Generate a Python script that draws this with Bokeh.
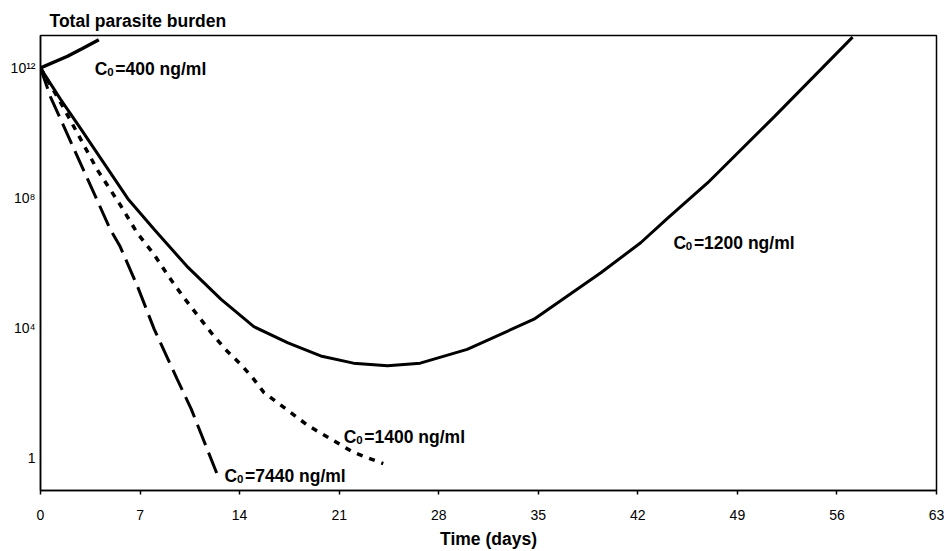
from bokeh.plotting import figure
from bokeh.models import FixedTicker, Range1d, Label
from bokeh.embed import file_html
from bokeh.resources import INLINE

# ---- data ----
days_400 = [0, 1.9, 2.95, 4.1]
burden_400 = [1e12, 2.3e12, 4.0e12, 7.4e12]

days_1200 = [0, 1.4, 2.8, 6.2, 8.0, 10.3, 12.7, 15.0, 17.4, 19.7, 22.0, 24.4,
             26.7, 30.0, 34.7, 39.4, 42.2, 44.1, 46.9, 51.6, 57.1]
burden_1200 = [1e12, 1.1e11, 1.41e10, 8.8e7, 1.07e7, 7.9e5, 7.6e4, 1.1e4, 3.5e3,
               1.38e3, 830, 690, 830, 2.2e3, 1.86e4, 5.0e5, 4.2e6, 2.4e7, 2.9e8,
               3.2e10, 8.9e12]

days_1400 = [0, 1.6, 4.0, 5.6, 6.8, 8.0, 9.0, 10.0, 11.0, 12.0, 13.0, 14.1,
             14.9, 15.7, 18.8, 22.0, 24.1]
burden_1400 = [1e12, 6.2e10, 7.3e8, 6.2e7, 8.4e6, 1.8e6, 3.9e5, 9.6e4, 2.6e4,
               7.2e3, 2.2e3, 740, 300, 105, 10, 1.5, 0.67]

days_7440 = [0, 0.7, 4.9, 5.6, 6.8, 8.0, 9.6, 10.6, 12.5]
burden_7440 = [1e12, 1.3e11, 1.1e7, 3.2e6, 2.0e5, 9.1e3, 270, 32, 0.26]

x_ticks = [0, 7, 14, 21, 28, 35, 42, 49, 56, 63]
y_ticks = [1, 10**4, 10**8, 10**12]
y_tick_labels = ["1", "10\u2074", "10\u2078", "10\u00b9\u00b2"]

concentrations = ["400", "1200", "1400", "7440"]
label_x = [3.82, 44.5, 21.33, 12.94]
label_y = [9.6e11, 4.0e6, 4.4, 0.275]

FONT = "Liberation Sans"
BIG = "17.5px"

p = figure(width=944, height=551, y_axis_type="log",
           x_range=Range1d(0, 63), y_range=Range1d(0.1, 1e13),
           output_backend="svg", toolbar_location=None,
           min_border_left=40, min_border_right=8, min_border_top=35,
           min_border_bottom=59)

p.title.text = "Total parasite burden"
p.title.text_font = FONT
p.title.text_font_size = BIG
p.title.text_font_style = "bold"
p.title.text_color = "black"
p.title.align = "left"
p.title.offset = 9
p.title.standoff = 9

p.xgrid.visible = False
p.ygrid.visible = False
p.outline_line_color = "black"
p.outline_line_width = 1.5
p.background_fill_color = "white"
p.border_fill_color = "white"

# x axis
p.xaxis.ticker = FixedTicker(ticks=x_ticks)
p.xaxis.minor_tick_line_color = None
p.xaxis.major_tick_out = 4
p.xaxis.major_tick_in = 0
p.xaxis.major_tick_line_color = "black"
p.xaxis.major_tick_line_width = 1.5
p.xaxis.axis_line_color = "black"
p.xaxis.axis_line_width = 1.5
p.xaxis.major_label_text_font = FONT
p.xaxis.major_label_text_font_size = "14px"
p.xaxis.major_label_text_color = "black"
p.xaxis.major_label_standoff = 15
p.xaxis.axis_label = "Time (days)"
p.xaxis.axis_label_text_font = FONT
p.xaxis.axis_label_text_font_size = BIG
p.xaxis.axis_label_text_font_style = "bold"
p.xaxis.axis_label_text_color = "black"
p.xaxis.axis_label_standoff = 6

# y axis
p.yaxis.ticker = FixedTicker(ticks=y_ticks, minor_ticks=[])
p.yaxis.major_label_overrides = dict(zip(y_ticks, y_tick_labels))
p.yaxis.minor_tick_line_color = None
p.yaxis.major_tick_out = 0
p.yaxis.major_tick_in = 0
p.yaxis.axis_line_color = "black"
p.yaxis.axis_line_width = 1.5
p.yaxis.major_label_text_font = FONT
p.yaxis.major_label_text_font_size = "14px"
p.yaxis.major_label_text_color = "black"
p.yaxis.major_label_standoff = 5

# curves
p.line(days_400, burden_400, line_color="black", line_width=3.5)
p.line(days_1200, burden_1200, line_color="black", line_width=3)
p.line(days_1400, burden_1400, line_color="black", line_width=3.5, line_dash="6 7")
p.line(days_7440, burden_7440, line_color="black", line_width=3, line_dash="22 8")

def add_text(x, y, text, size, dx, dy):
    p.add_layout(Label(x=x, y=y, text=text, text_font=FONT, text_font_size=size,
                       text_font_style="bold", text_color="black",
                       text_baseline="alphabetic", text_align="left",
                       x_offset=dx, y_offset=dy))

for c, lx, ly in zip(concentrations, label_x, label_y):
    add_text(lx, ly, "C", BIG, 0, 0)
    add_text(lx, ly, "0", "11.5px", 12.4, -3)
    add_text(lx, ly, "=" + c + " ng/ml", BIG, 20.5, 0)

open("out.html", "w").write(file_html(p, INLINE))
